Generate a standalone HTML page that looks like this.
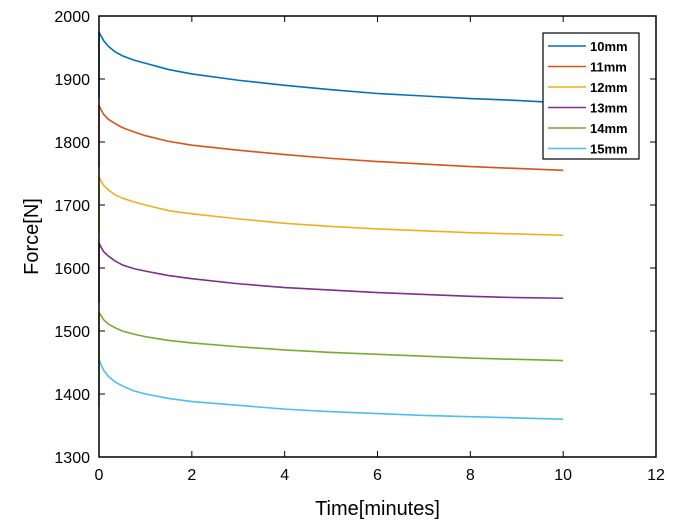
<!DOCTYPE html>
<html><head><meta charset="utf-8"><style>
body{margin:0;background:#fff;}
svg{display:block;font-family:"Liberation Sans",Arial,sans-serif;}
</style></head><body>
<svg id="c" width="685" height="530"></svg>
<script>
const times=[0,0,0.03,0.1,0.2,0.35,0.5,0.75,1,1.5,2,3,4,5,6,7,8,9,10];
const s10=[1870,1975,1970,1961,1952,1943,1937,1930,1925,1915,1908,1898,1890,1883,1877,1873,1869,1866,1862];
const s11=[1760,1858,1853,1844,1836,1829,1823,1816,1810,1801,1795,1787,1780,1774,1769,1765,1761,1758,1755];
const s12=[1655,1745,1740,1731,1724,1716,1711,1705,1700,1691,1686,1678,1671,1666,1662,1659,1656,1654,1652];
const s13=[1545,1640,1635,1626,1619,1611,1605,1599,1595,1588,1583,1575,1569,1565,1561,1558,1555,1553,1552];
const s14=[1450,1530,1526,1518,1511,1505,1500,1495,1491,1485,1481,1475,1470,1466,1463,1460,1457,1455,1453];
const s15=[1380,1455,1449,1438,1428,1419,1413,1405,1400,1393,1388,1382,1376,1372,1369,1366,1364,1362,1360];
const seriesNames=["10mm","11mm","12mm","13mm","14mm","15mm"];
const seriesData=[s10,s11,s12,s13,s14,s15];
const colors=["#0072BD","#D95319","#EDB120","#7E2F8E","#77AC30","#4DBEEE"];
const xTicks=[0,2,4,6,8,10,12];
const yTicks=[1300,1400,1500,1600,1700,1800,1900,2000];
const L=99,R=656,T=16,B=457;
const x=v=>L+(v-0)/(12-0)*(R-L);
const y=v=>B-(v-1300)/(2000-1300)*(B-T);
const svg=document.getElementById('c');
const NS="http://www.w3.org/2000/svg";
function mk(tag,attrs,parent){const e=document.createElementNS(NS,tag);for(const k in attrs)e.setAttribute(k,attrs[k]);(parent||svg).appendChild(e);return e;}
seriesData.forEach((d,i)=>{
 const p=mk('polyline',{points:d.map((v,j)=>x(times[j])+','+y(v)).join(' '),fill:'none',stroke:colors[i],'stroke-width':1.6,'stroke-linejoin':'round'});
 
 
});
const box=mk('rect',{x:L,y:T,width:R-L,height:B-T,fill:'none',stroke:'#000','stroke-width':1.5});


xTicks.forEach(t=>{
 mk('line',{x1:x(t),x2:x(t),y1:B,y2:B-6,stroke:'#000'});
 mk('line',{x1:x(t),x2:x(t),y1:T,y2:T+6,stroke:'#000'});
 const tx=mk('text',{x:x(t),y:B+23,'font-size':16,'text-anchor':'middle'});tx.textContent=t;
 
 
});
yTicks.forEach(t=>{
 mk('line',{x1:L,x2:L+6,y1:y(t),y2:y(t),stroke:'#000'});
 mk('line',{x1:R,x2:R-6,y1:y(t),y2:y(t),stroke:'#000'});
 const tx=mk('text',{x:L-9,y:y(t)+6,'font-size':16,'text-anchor':'end'});tx.textContent=t;
 
 
});
const xt=mk('text',{x:(L+R)/2,y:515,'font-size':20,'text-anchor':'middle'});xt.textContent='Time[minutes]';


const yt=mk('text',{x:0,y:0,'font-size':20,'text-anchor':'middle',transform:'translate(38,'+((T+B)/2)+') rotate(-90)'});yt.textContent='Force[N]';


const lg=mk('g',{});


mk('rect',{x:543,y:33,width:96,height:126,fill:'#fff',stroke:'#000','stroke-width':1.2},lg);
seriesNames.forEach((n,i)=>{
 const yy=46+i*20.5;
 const g=mk('g',{},lg);
 
 
 mk('line',{x1:548,x2:586,y1:yy,y2:yy,stroke:colors[i],'stroke-width':1.5},g);
 const t=mk('text',{x:590,y:yy+5,'font-size':13,'font-weight':'bold'},g);t.textContent=n;
});
</script>
</body></html>
